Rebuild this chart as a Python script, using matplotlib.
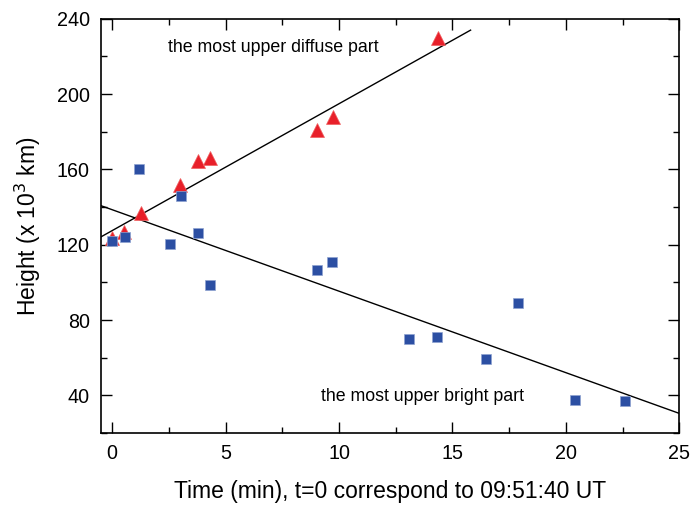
import matplotlib
matplotlib.use("Agg")
import matplotlib.pyplot as plt
from matplotlib.ticker import MultipleLocator

plt.rcParams['font.family'] = ['Liberation Sans', 'DejaVu Sans']

# Data
diffuse_t = [0.0, 0.5, 1.25, 3.0, 3.8, 4.3, 9.05, 9.75, 14.35]
diffuse_h = [123.5, 127.0, 137.0, 152.0, 164.5, 166.0, 181.0, 188.0, 230.0]

bright_t = [0.0, 0.55, 1.2, 2.55, 3.05, 3.8, 4.3, 9.05, 9.7, 13.1, 14.3, 16.5, 17.9, 20.4, 22.6]
bright_h = [122.0, 124.0, 160.5, 120.5, 146.0, 126.5, 98.5, 106.5, 111.0, 70.0, 71.0, 59.5, 89.0, 37.8, 37.3]

diffuse_fit_t = [-0.5, 15.8]
diffuse_fit_h = [124.2, 234.0]
bright_fit_t = [-0.5, 25.0]
bright_fit_h = [140.8, 30.5]

xticks = [0, 5, 10, 15, 20, 25]
yticks = [40, 80, 120, 160, 200, 240]

fig = plt.figure(figsize=(6.91, 5.09), dpi=100)
ax = fig.add_axes([0.146, 0.149, 0.837, 0.814])

ax.plot(diffuse_fit_t, diffuse_fit_h, color='black', lw=1.0, zorder=2)
ax.plot(bright_fit_t, bright_fit_h, color='black', lw=1.0, zorder=2)

ax.plot(diffuse_t, diffuse_h, linestyle='none', marker='^', markersize=9.5,
        color='#e8202a', markeredgecolor='#f06060', markeredgewidth=0.5, zorder=3)
ax.plot(bright_t, bright_h, linestyle='none', marker='s', markersize=7,
        color='#2c4fa3', markeredgecolor='#8fa3d0', markeredgewidth=0.5, zorder=4)

ax.text(2.45, 225, 'the most upper diffuse part', fontsize=12.8, va='center', ha='left')
ax.text(9.2, 39.5, 'the most upper bright part', fontsize=12.8, va='center', ha='left')

ax.set_xlim(-0.5, 25)
ax.set_ylim(20, 240)
ax.set_xticks(xticks)
ax.set_yticks(yticks)
ax.xaxis.set_minor_locator(MultipleLocator(2.5))
ax.yaxis.set_minor_locator(MultipleLocator(20))
ax.tick_params(which='both', direction='in', top=True, right=True, labelsize=14.2, width=1)
ax.tick_params(which='major', length=8)
ax.tick_params(which='minor', length=4.5)
ax.tick_params(axis='x', which='major', pad=8)
ax.tick_params(axis='y', which='major', pad=8)
for s in ax.spines.values():
    s.set_linewidth(1.2)

ax.set_xlabel('Time (min), t=0 correspond to 09:51:40 UT', fontsize=16.5, labelpad=12)
ax.set_ylabel('Height (x 10$^{3}$ km)', fontsize=16.5, labelpad=10)

fig.savefig('out.png', dpi=100)
